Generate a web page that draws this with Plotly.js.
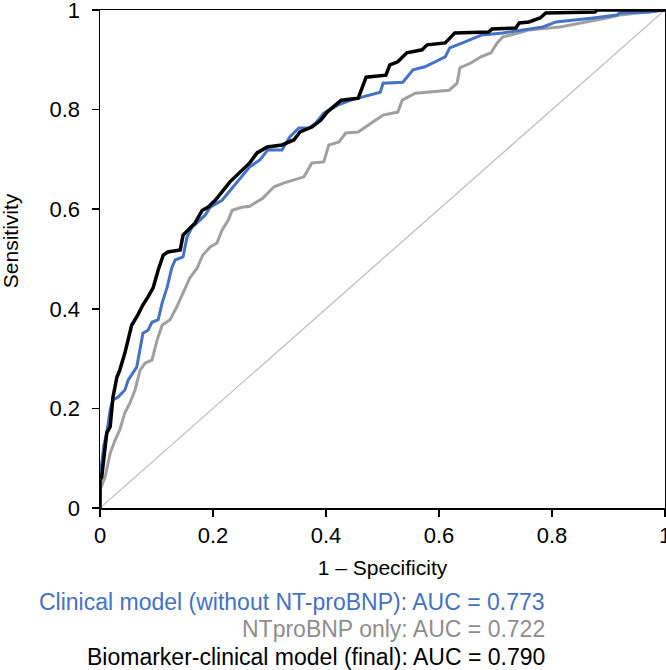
<!DOCTYPE html>
<html>
<head>
<meta charset="utf-8">
<script src="https://cdn.plot.ly/plotly-3.0.1.min.js"></script>
<style>
  html, body { margin: 0; padding: 0; background: #fff; }
  #chart { width: 666px; height: 670px; }
</style>
</head>
<body>
<div id="chart"></div>
<script>
// ROC curves (1 - specificity, sensitivity)
const finalFpr = [0, 0, 0.003, 0.007, 0.012, 0.018, 0.023, 0.030, 0.035, 0.044, 0.050, 0.056, 0.067, 0.076, 0.085, 0.094, 0.103, 0.112, 0.120, 0.142, 0.147, 0.159, 0.168, 0.181, 0.191, 0.204, 0.230, 0.265, 0.278, 0.296, 0.322, 0.343, 0.354, 0.375, 0.391, 0.402, 0.427, 0.457, 0.471, 0.506, 0.513, 0.527, 0.543, 0.570, 0.579, 0.611, 0.628, 0.688, 0.694, 0.736, 0.742, 0.759, 0.779, 0.789, 0.876, 0.880, 1];
const finalTpr = [0, 0.056, 0.062, 0.106, 0.151, 0.163, 0.223, 0.263, 0.277, 0.311, 0.337, 0.367, 0.388, 0.408, 0.424, 0.442, 0.478, 0.508, 0.514, 0.518, 0.548, 0.562, 0.572, 0.598, 0.604, 0.618, 0.655, 0.693, 0.713, 0.725, 0.729, 0.739, 0.755, 0.765, 0.779, 0.795, 0.819, 0.823, 0.865, 0.869, 0.890, 0.896, 0.914, 0.920, 0.930, 0.934, 0.954, 0.956, 0.962, 0.964, 0.974, 0.976, 0.984, 0.994, 0.996, 1, 1];

const clinicalFpr = [0, 0, 0.003, 0.007, 0.012, 0.018, 0.023, 0.032, 0.044, 0.050, 0.065, 0.071, 0.076, 0.085, 0.092, 0.103, 0.110, 0.119, 0.127, 0.133, 0.147, 0.154, 0.163, 0.173, 0.186, 0.195, 0.216, 0.265, 0.283, 0.297, 0.322, 0.336, 0.352, 0.370, 0.382, 0.396, 0.421, 0.444, 0.496, 0.501, 0.536, 0.554, 0.575, 0.611, 0.619, 0.646, 0.676, 0.713, 0.749, 0.784, 0.807, 0.846, 0.873, 0.915, 0.920, 0.973, 1];
const clinicalTpr = [0, 0.066, 0.090, 0.127, 0.151, 0.197, 0.217, 0.223, 0.237, 0.257, 0.283, 0.323, 0.351, 0.357, 0.373, 0.378, 0.412, 0.444, 0.482, 0.498, 0.504, 0.544, 0.564, 0.574, 0.588, 0.604, 0.618, 0.685, 0.699, 0.719, 0.719, 0.745, 0.763, 0.763, 0.773, 0.793, 0.809, 0.819, 0.835, 0.853, 0.855, 0.880, 0.886, 0.906, 0.924, 0.936, 0.950, 0.954, 0.960, 0.966, 0.976, 0.980, 0.984, 0.990, 0.994, 0.996, 1];

const ntproFpr = [0, 0, 0.009, 0.018, 0.027, 0.035, 0.044, 0.053, 0.062, 0.071, 0.080, 0.092, 0.101, 0.110, 0.124, 0.136, 0.147, 0.159, 0.172, 0.182, 0.195, 0.207, 0.216, 0.227, 0.234, 0.251, 0.265, 0.288, 0.308, 0.326, 0.361, 0.375, 0.396, 0.405, 0.423, 0.435, 0.457, 0.474, 0.488, 0.501, 0.527, 0.535, 0.558, 0.618, 0.632, 0.637, 0.657, 0.674, 0.692, 0.703, 0.713, 0.742, 0.759, 0.814, 0.862, 0.897, 0.920, 0.973, 1];
const ntproTpr = [0, 0.036, 0.062, 0.110, 0.137, 0.157, 0.191, 0.211, 0.237, 0.277, 0.291, 0.297, 0.337, 0.367, 0.378, 0.404, 0.432, 0.462, 0.482, 0.508, 0.524, 0.532, 0.558, 0.578, 0.598, 0.604, 0.606, 0.622, 0.645, 0.653, 0.665, 0.693, 0.695, 0.729, 0.735, 0.753, 0.755, 0.769, 0.779, 0.789, 0.795, 0.819, 0.833, 0.839, 0.853, 0.884, 0.894, 0.906, 0.914, 0.934, 0.946, 0.954, 0.960, 0.966, 0.976, 0.984, 0.990, 0.996, 1];

const refX = [0, 1];
const refY = [0, 1];

const legendLabels = [
    'Clinical model (without NT-proBNP): AUC = 0.773',
    'NTproBNP only: AUC = 0.722',
    'Biomarker-clinical model (final): AUC = 0.790'
];
const legendColors = ['#4472C4', '#8E8E8E', '#000000'];

const tickVals = [0, 0.2, 0.4, 0.6, 0.8, 1];
const tickText = ['0', '0.2', '0.4', '0.6', '0.8', '1'];

let traces = [
    {
        x: refX, y: refY, mode: 'lines',
        line: { color: '#BFBFBF', width: 1.3 },
        hoverinfo: 'skip'
    },
    {
        x: ntproFpr, y: ntproTpr, mode: 'lines',
        name: legendLabels[1],
        line: { color: '#A0A0A0', width: 3 }
    },
    {
        x: clinicalFpr, y: clinicalTpr, mode: 'lines',
        name: legendLabels[0],
        line: { color: '#4472C4', width: 3 }
    },
    {
        x: finalFpr, y: finalTpr, mode: 'lines',
        name: legendLabels[2],
        line: { color: '#000000', width: 3.5 }
    }
];

// legend text sits under the x axis, right aligned
let legendY = [-0.189, -0.243, -0.299];
let annotations = legendLabels.map((txt, i) => ({
    xref: 'paper', yref: 'paper',
    x: 0.7913, y: legendY[i],
    xanchor: 'right', yanchor: 'middle',
    text: txt, showarrow: false,
    font: { size: 23, color: legendColors[i] }
}));

// y title drawn as an annotation: in the original it sits a bit above the middle
annotations.push({
    xref: 'paper', yref: 'paper',
    x: -0.159, y: 0.536,
    xanchor: 'center', yanchor: 'middle',
    textangle: -90,
    text: 'Sensitivity', showarrow: false,
    font: { size: 21, color: '#000' }
});

let axisBase = {
    range: [0, 1],
    tickvals: tickVals,
    ticktext: tickText,
    ticks: 'outside',
    ticklen: 7,
    tickwidth: 1.5,
    tickcolor: '#000',
    showline: true,
    linecolor: '#000',
    linewidth: 1.5,
    mirror: true,
    showgrid: false,
    zeroline: false,
    ticklabeloverflow: 'allow',
    tickfont: { size: 22, color: '#000' }
};

let layout = {
    width: 666,
    height: 670,
    margin: { l: 100, r: 1, t: 10, b: 162 },
    paper_bgcolor: '#fff',
    plot_bgcolor: '#fff',
    font: { family: 'Liberation Sans, Arial, sans-serif', color: '#000' },
    showlegend: false,
    xaxis: Object.assign({}, axisBase, {
        title: { text: '1 – Specificity', font: { size: 21 }, standoff: 13 }
    }),
    yaxis: Object.assign({}, axisBase, {
        ticklabelstandoff: 7
    }),
    annotations: annotations
};

Plotly.newPlot('chart', traces, layout, { staticPlot: true });
</script>
</body>
</html>
